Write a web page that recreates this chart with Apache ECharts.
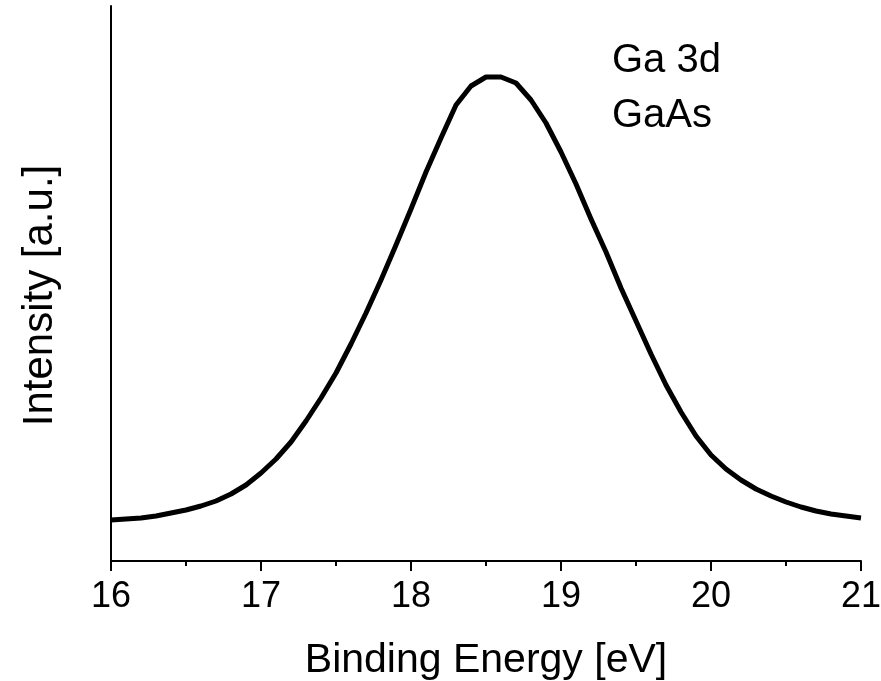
<!DOCTYPE html>
<html>
<head>
<meta charset="utf-8">
<script src="https://cdn.jsdelivr.net/npm/echarts@6/dist/echarts.min.js"></script>
<style>
    html, body { margin: 0; padding: 0; background: #fff; }
    #main { width: 881px; height: 681px; }
</style>
</head>
<body>
<div id="main"></div>
<script>
// binding energy in eV, 0.1 eV steps
var energy = [16.0, 16.1, 16.2, 16.3, 16.4, 16.5, 16.6, 16.7, 16.8, 16.9,
    17.0, 17.1, 17.2, 17.3, 17.4, 17.5, 17.6, 17.7, 17.8, 17.9,
    18.0, 18.1, 18.2, 18.3, 18.4, 18.5, 18.6, 18.7, 18.8, 18.9,
    19.0, 19.1, 19.2, 19.3, 19.4, 19.5, 19.6, 19.7, 19.8, 19.9,
    20.0, 20.1, 20.2, 20.3, 20.4, 20.5, 20.6, 20.7, 20.8, 20.9, 21.0];
// intensity, arbitrary units
var intensity = [41, 42, 43, 45, 48, 51, 55, 60, 67, 76,
    88, 102, 119, 140, 163, 188, 217, 248, 281, 316,
    352, 389, 423, 456, 475, 484, 484, 478, 461, 438,
    409, 377, 342, 309, 273, 240, 207, 176, 149, 125,
    106, 92, 81, 72, 65, 59, 54, 50, 47, 45, 43];
var labels = ['Ga 3d', 'GaAs'];

var font = 'Liberation Sans, Arial, sans-serif';
var chart = echarts.init(document.getElementById('main'));
chart.setOption({
    animation: false,
    grid: { left: 111, right: 20, top: 6, bottom: 120, outerBoundsMode: 'none' },
    graphic: [{
        type: 'text',
        left: 612,
        top: 33,
        style: {
            text: labels.join('\n'),
            font: '40px ' + font,
            lineHeight: 55,
            fill: '#000'
        }
    }],
    xAxis: {
        type: 'value',
        min: 16,
        max: 21,
        interval: 1,
        name: 'Binding Energy [eV]',
        nameLocation: 'middle',
        nameGap: 79,
        nameTextStyle: { fontFamily: font, fontSize: 41, color: '#000' },
        axisLine: { lineStyle: { color: '#000', width: 2 } },
        axisTick: { show: true, length: 10, lineStyle: { color: '#000', width: 2 } },
        minorTick: { show: true, splitNumber: 2, length: 5, lineStyle: { color: '#000', width: 2 } },
        axisLabel: { fontFamily: font, fontSize: 36, color: '#000', margin: 18 },
        splitLine: { show: false }
    },
    yAxis: {
        type: 'value',
        min: 0,
        max: 555,
        name: 'Intensity [a.u.]',
        nameLocation: 'middle',
        nameGap: 50,
        nameTextStyle: { fontFamily: font, fontSize: 42, color: '#000', padding: [0, 24, 0, 0] },
        axisLine: { show: true, lineStyle: { color: '#000', width: 2 } },
        axisTick: { show: false },
        axisLabel: { show: false },
        splitLine: { show: false }
    },
    series: [{
        type: 'line',
        data: energy.map(function (e, i) { return [e, intensity[i]]; }),
        showSymbol: false,
        lineStyle: { color: '#000', width: 5, join: 'round' }
    }]
});
</script>
</body>
</html>
